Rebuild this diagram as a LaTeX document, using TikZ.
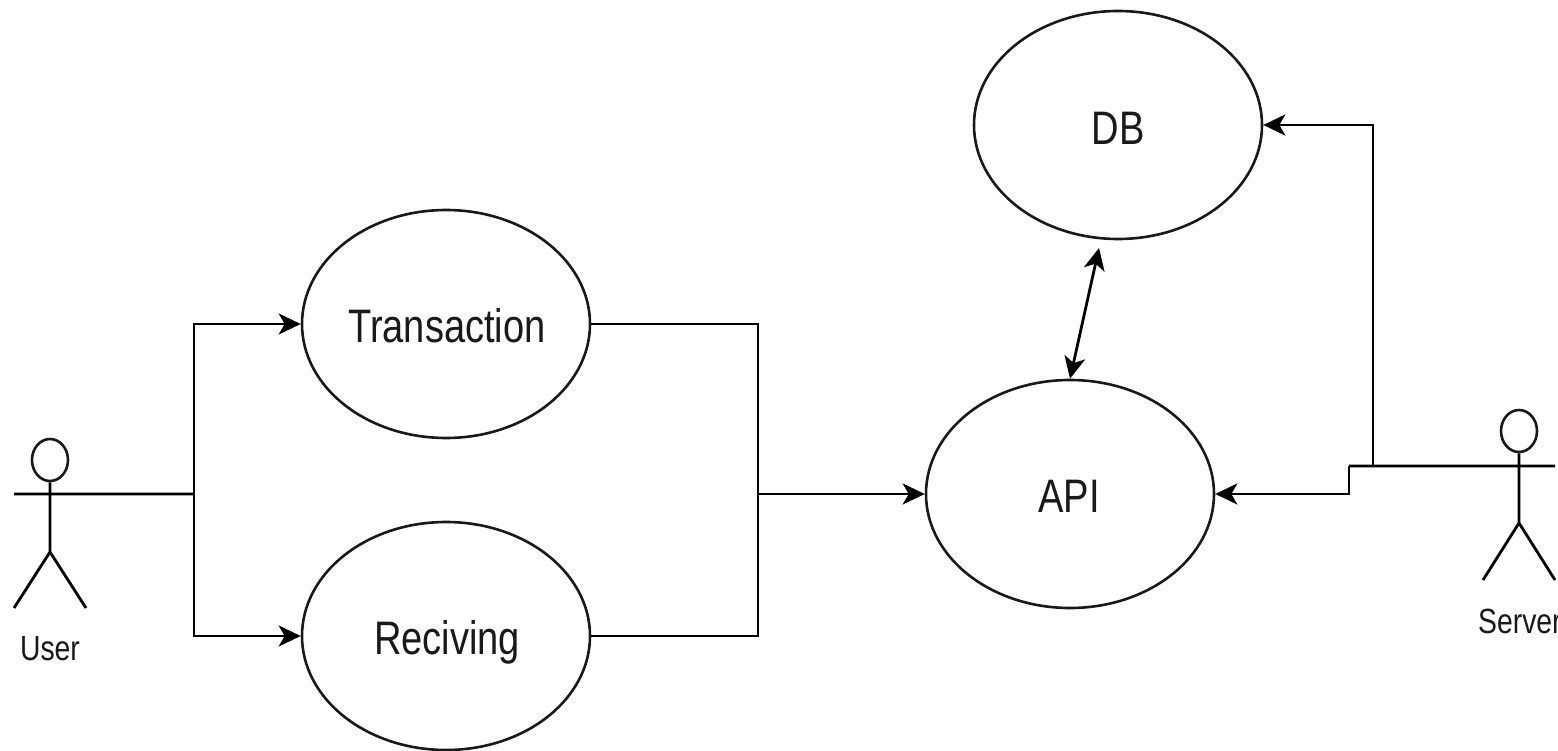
\documentclass[tikz,border=0pt]{standalone}
\usepackage{fontspec}
\setmainfont{Liberation Sans}
\usetikzlibrary{shapes.geometric,arrows.meta}
\tikzset{
 uc/.style={draw=black!90,ellipse,line width=2.6pt,inner sep=0pt,minimum width=288pt,minimum height=228pt},
 lbl/.style={inner sep=0pt,text=black!90,font=\fontsize{47}{50}\selectfont,xscale=0.81},
 small/.style={inner sep=0pt,text=black!90,font=\fontsize{35}{38}\selectfont,xscale=0.81},
 head/.style={draw=black!90,ellipse,line width=2.6pt,minimum width=36pt,minimum height=42pt,inner sep=0pt},
 ln/.style={draw=black,line width=2.8pt},
 arr/.style={ln,-{Stealth[length=22pt,width=21pt,inset=6pt]}},
 darr/.style={ln,{Stealth[length=22pt,width=21pt,inset=6pt]}-{Stealth[length=22pt,width=21pt,inset=6pt]}},
}
\begin{document}
\begin{tikzpicture}[x=1pt,y=-1pt]
\useasboundingbox (0,0) rectangle (1558,751);
\fill[white] (0,0) rectangle (1558,751);
\node[uc] (tr) at (446,324) {};
\node[lbl] (trt) at (447,326) {Transaction};
\node[uc] (re) at (446,636) {};
\node[lbl] (ret) at (447,642) {Reciving};
\node[uc] (api) at (1070,494) {};
\node[lbl] (apit) at (1069,496) {API};
\node[uc] (db) at (1118,125) {};
\node[lbl] (dbt) at (1118,128) {DB};
% user
\node[head] (uh) at (50,460) {};
\coordinate (ua) at (14,494);
\coordinate (uj) at (194,494);
\coordinate (ub) at (50,552);
\coordinate (ul) at (14,608);
\coordinate (ur) at (86,608);
\draw[ln] (uh.south) -- (ub) (ul) -- (ub) -- (ur) (ua) -- (uj);
\node[small] (ut) at (50,649) {User};
\draw[arr] (uj) |- (tr.west);
\draw[arr] (uj) |- (re.west);
% merge
\coordinate (mj) at (758,494);
\draw[ln] (tr.east) -| (mj);
\draw[ln] (re.east) -| (mj);
\draw[arr] (mj) -- (api.west);
% db-api
\coordinate (dbp) at (1099,248);
\draw[darr] (api.north) -- (dbp);
% server
\node[head] (sh) at (1519,431) {};
\coordinate (sa) at (1555,466);
\coordinate (sb) at (1519,523);
\coordinate (sl) at (1483,580);
\coordinate (sr) at (1555,580);
\coordinate (s1) at (1349,466);
\coordinate (s2) at (1349,494);
\coordinate (s3) at (1373,466);
\draw[ln] (sh.south) -- (sb) (sl) -- (sb) -- (sr) (sa) -- (s1);
\node[small,anchor=west] (st) at (1478,621) {Server};
\draw[arr] (s1) -- (s2) -- (api.east);
\draw[arr] (s3) |- (db.east);
\end{tikzpicture}
\end{document}
